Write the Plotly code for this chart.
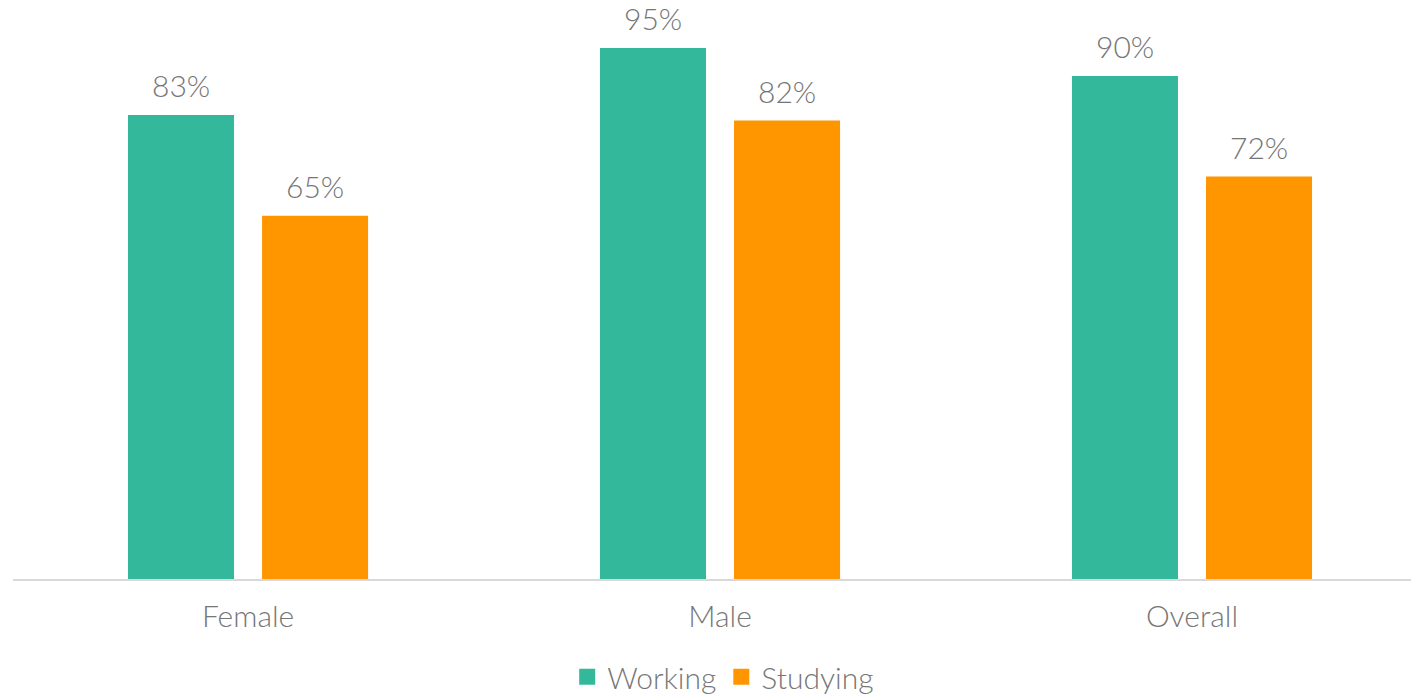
import plotly.graph_objects as go

# data
groups = ["Female", "Male", "Overall"]
working = [0.83, 0.95, 0.90]
studying = [0.65, 0.82, 0.72]

teal = "#33B89C"
orange = "#FF9600"
grey_text = "#767676"
font_family = "'Lato Light', Lato, 'Open Sans', sans-serif"
label_font = dict(size=30, color=grey_text, family=font_family, weight=300)

fig = go.Figure()
fig.add_bar(name="Working", x=groups, y=working, marker=dict(color=teal, line_width=0), showlegend=False)
fig.add_bar(name="Studying", x=groups, y=studying, marker=dict(color=orange, line_width=0), showlegend=False)

# legend entries with bigger square swatches
for name, color in [("Working", teal), ("Studying", orange)]:
    fig.add_scatter(
        name=name, x=[None], y=[None], mode="markers",
        marker=dict(symbol="square", size=16, color=color),
    )

# value labels above the bars
for vals, shift in [(working, -67), (studying, 67)]:
    for g, v in zip(groups, vals):
        fig.add_annotation(
            x=g, y=v, text=f"{v:.0%}", showarrow=False,
            xshift=shift, yshift=10, yanchor="bottom",
            font=label_font,
        )

fig.update_layout(
    width=1411, height=695,
    barmode="group", bargap=0.432, bargroupgap=0.209,
    plot_bgcolor="white", paper_bgcolor="white",
    margin=dict(l=13, r=0, t=20, b=116, pad=0, autoexpand=False),
    font=label_font,
    legend=dict(
        orientation="h", x=0.508, xanchor="center", y=-0.175, yanchor="middle",
        font=label_font, traceorder="normal", itemwidth=30,
    ),
    showlegend=True,
)

fig.update_xaxes(
    range=[-0.498, 2.464],
    showline=True, linecolor="#D9D9D9", linewidth=2,
    ticks="outside", ticklen=10, tickcolor="rgba(0,0,0,0)",
    showgrid=False, zeroline=False,
)
fig.update_yaxes(range=[0, 1], visible=False, showgrid=False)

# drop the default page margin so the figure sits at the window corner
fig.write_html(
    "out.html",
    config={"displayModeBar": False},
    post_script="document.body.style.margin='0';",
)
